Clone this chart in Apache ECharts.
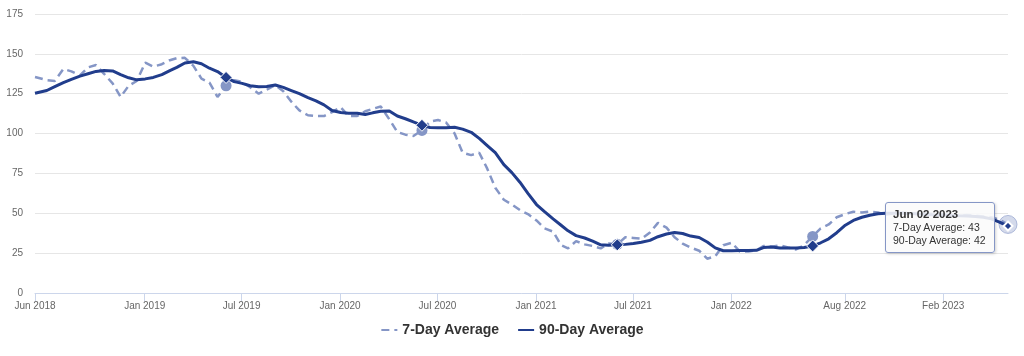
<!DOCTYPE html>
<html>
<head>
<meta charset="utf-8">
<script src="https://cdn.jsdelivr.net/npm/echarts@6/dist/echarts.min.js"></script>
<style>
html,body{margin:0;padding:0;background:#fff;}
#chart{width:1024px;height:356px;}
</style>
</head>
<body>
<div id="chart"></div>
<script>
// ---------- data ----------
const dates = [
  '2018-06-10',
  '2018-07-02','2018-07-17','2018-08-02','2018-08-17','2018-09-02','2018-09-17',
  '2018-10-02','2018-10-17','2018-11-02','2018-11-17','2018-12-02','2018-12-17',
  '2019-01-02','2019-01-17','2019-02-02','2019-02-17','2019-03-02','2019-03-17',
  '2019-04-02','2019-04-17','2019-05-02','2019-05-17','2019-06-02','2019-06-17',
  '2019-07-02','2019-07-17','2019-08-02','2019-08-17','2019-09-02','2019-09-17',
  '2019-10-02','2019-10-17','2019-11-02','2019-11-17','2019-12-02','2019-12-17',
  '2020-01-02','2020-01-17','2020-02-02','2020-02-17','2020-03-02','2020-03-17',
  '2020-04-02','2020-04-17','2020-05-02','2020-05-17','2020-06-02','2020-06-17',
  '2020-07-02','2020-07-17','2020-08-02','2020-08-17','2020-09-02','2020-09-17',
  '2020-10-02','2020-10-17','2020-11-02','2020-11-17','2020-12-02','2020-12-17',
  '2021-01-02','2021-01-17','2021-02-02','2021-02-17','2021-03-02','2021-03-17',
  '2021-04-02','2021-04-17','2021-05-02','2021-05-17','2021-06-02','2021-06-17',
  '2021-07-02','2021-07-17','2021-08-02','2021-08-17','2021-09-02','2021-09-17',
  '2021-10-02','2021-10-17','2021-11-02','2021-11-17','2021-12-02','2021-12-17',
  '2022-01-02','2022-01-17','2022-02-02','2022-02-17','2022-03-02','2022-03-17',
  '2022-04-02','2022-04-17','2022-05-02','2022-05-17','2022-06-02','2022-06-17',
  '2022-07-02','2022-07-17','2022-08-02','2022-08-17','2022-09-02','2022-09-17',
  '2022-10-02','2022-10-17','2022-11-02','2022-11-17','2022-12-02','2022-12-17',
  '2023-01-02','2023-01-17','2023-02-02','2023-02-17','2023-03-02','2023-03-17',
  '2023-04-02','2023-04-17','2023-05-02','2023-05-17','2023-06-02'
];

const sevenDay = [
  135.5,
  133.5,133, 140.5,139, 136.5,141.5, 143,137.5, 131.5,123, 130,133,
  144.5,142, 143.5,146, 147.3,147.5, 142.5,134.5, 132,123, 130,133.5,
  132.5,129, 125,127.5, 130.5,126.5, 120,114.5, 111.5,111, 111,113.5,
  116.5,111, 111,114, 115.5,117, 109,101, 99.3,98.5, 102,107.5,
  108.5,107, 100,88, 86.5,88, 78,66, 58.5,55.5, 52,49.5,
  45.5,40.5, 38.5,30, 28,32.5, 30.5,29.5, 28,31, 30.5,35,
  34.5,34, 38,44, 41,35, 31,28.5, 26.5,21.5, 23,30,
  31.5,26, 26,26.8, 29.5,29, 30,28.5, 27.3,30, 35.5,40.5,
  43,47.5, 49.5,51, 50.5,51, 50.5,49, 50,50.5, 50,49.5,
  50,49.5, 49.5,49, 48.5,49, 48.5,48, 47.5,46, 43
];

const ninetyDay = [
  125.3,
  127,129.5, 132,134, 136,137.5, 139,139.5, 139.3,137, 135,133.7,
  134.3,135.2, 137,139.5, 141.5,144.3, 145,143.8, 141,138.9, 135.2,132.6,
  131.5,130, 129.3,129.5, 130.5,129, 127,125, 122.5,120.5, 118,114.5,
  113.2,112.8, 112.8,112, 113,114, 114.2,111, 109.3,107.3, 105.2,103.8,
  103.6,103.7, 104,102.8, 100.8,97, 92.5,88, 80.5,75.5, 69.5,62.5,
  55.5,51, 46.5,42.5, 39,36, 34.5,32.5, 30.2,30, 30.2,30.5,
  31,31.8, 33,35.3, 37,38, 37.3,35.7, 34.8,32, 28.3,26.5,
  26.5,26.6, 26.7,26.8, 28.5,28.8, 28.3,28.3, 28.3,28.5, 29.5,31.5,
  34,37.8, 42.5,45.5, 47.5,48.8, 49.7,50, 50,50, 49.8,49.5,
  49.3,49, 49,48.8, 48.5,48.3, 48,47.5, 46.5,44.5, 42
];

const markerDates = ['2019-06-02','2020-06-02','2021-06-02','2022-06-02'];
const tickDates = ['2018-06-10','2019-01-01','2019-07-01','2020-01-01','2020-07-01',
                   '2021-01-01','2021-07-01','2022-01-01','2022-08-01','2023-02-01'];
const seriesNames = ['7-Day Average','90-Day Average'];
const xMin = '2018-06-10';
const xMax = '2023-06-02';
const yMin = 0, yMax = 175, yInterval = 25;

// ---------- helpers ----------
const MONTHS = ['Jan','Feb','Mar','Apr','May','Jun','Jul','Aug','Sep','Oct','Nov','Dec'];
const ts = s => new Date(s + 'T00:00:00').getTime();
const pad = n => (n < 10 ? '0' : '') + n;
const C7 = '#8596c6';
const C90 = '#213d8c';
const FONT = '"Liberation Sans", Arial, Helvetica, sans-serif';
const tipIndex = dates.length - 1;

function build(values, kind) {
  return values.map((v, i) => {
    const d = dates[i];
    const item = { value: [ts(d), v] };
    if (markerDates.indexOf(d) >= 0) {
      if (kind === 7) {
        item.symbol = 'circle'; item.symbolSize = 11;
        item.itemStyle = { color: C7, borderWidth: 0 };
      } else {
        item.symbol = 'diamond'; item.symbolSize = 12;
        item.itemStyle = { color: C90, borderColor: '#fff', borderWidth: 1 };
      }
    } else if (i === tipIndex) {
      if (kind === 7) {
        item.symbol = 'circle'; item.symbolSize = 18;
        item.itemStyle = { color: 'rgba(133,150,198,0.35)', borderColor: 'rgba(133,150,198,0.6)', borderWidth: 1 };
      } else {
        item.symbol = 'diamond'; item.symbolSize = 9;
        item.itemStyle = { color: C90, borderColor: '#fff', borderWidth: 2 };
      }
    }
    return item;
  });
}

const chart = echarts.init(document.getElementById('chart'), null, { renderer: 'canvas' });

chart.setOption({
  animation: false,
  textStyle: { fontFamily: FONT },
  grid: { left: 35, right: 16, top: 14, bottom: 63, containLabel: false },
  legend: {
    data: seriesNames,
    left: 'center',
    top: 318,
    itemWidth: 16,
    itemHeight: 10,
    itemGap: 18,
    itemStyle: { opacity: 0 },
    textStyle: { fontSize: 14, fontWeight: 'bold', color: '#333', fontFamily: FONT },
    selectedMode: false
  },
  tooltip: {
    trigger: 'item',
    triggerOn: 'none',
    alwaysShowContent: true,
    backgroundColor: 'rgba(250,250,250,0.88)',
    borderColor: C7,
    borderWidth: 1,
    padding: [5, 8, 5, 7],
    textStyle: { fontSize: 10.5, color: '#333', fontFamily: FONT },
    extraCssText: 'box-shadow:1px 1px 3px rgba(0,0,0,0.18);border-radius:3px;line-height:13px;',
    position: function (point, params, dom, rect, size) {
      return [point[0] - size.contentSize[0] - 13, point[1] - 24];
    },
    formatter: function (p) {
      const i = p.dataIndex;
      const d = new Date(ts(dates[i]));
      const head = MONTHS[d.getMonth()] + ' ' + pad(d.getDate()) + ' ' + d.getFullYear();
      return '<span style="font-weight:bold;font-size:11.5px">' + head + '</span><br/>' +
        seriesNames[0] + ': ' + Math.round(sevenDay[i]) + '<br/>' +
        seriesNames[1] + ': ' + Math.round(ninetyDay[i]);
    }
  },
  xAxis: {
    type: 'value',
    min: ts(xMin),
    max: ts(xMax),
    splitLine: { show: false },
    axisLine: { show: true, lineStyle: { color: '#ccd6eb', width: 1 } },
    axisTick: {
      show: true, length: 8, lineStyle: { color: '#ccd6eb' },
      customValues: tickDates.map(ts)
    },
    axisLabel: {
      customValues: tickDates.map(ts),
      color: '#666', fontSize: 10, margin: 8, fontFamily: FONT,
      hideOverlap: false,
      formatter: function (v) {
        const d = new Date(v);
        return MONTHS[d.getMonth()] + ' ' + d.getFullYear();
      }
    }
  },
  yAxis: {
    type: 'value',
    min: yMin, max: yMax, interval: yInterval,
    axisLine: { show: false },
    axisTick: { show: false },
    axisLabel: { color: '#666', fontSize: 10, margin: 12, fontFamily: FONT },
    splitLine: { lineStyle: { color: '#e6e6e6', width: 1 } }
  },
  series: [
    {
      name: seriesNames[0],
      type: 'line',
      data: build(sevenDay, 7),
      symbol: 'none',
      showSymbol: true,
      showAllSymbol: true,
      color: C7,
      lineStyle: { color: C7, width: 2.5, type: [8, 5] },
      emphasis: { disabled: true },
      z: 2
    },
    {
      name: seriesNames[1],
      type: 'line',
      data: build(ninetyDay, 90),
      symbol: 'none',
      showSymbol: true,
      showAllSymbol: true,
      color: C90,
      lineStyle: { color: C90, width: 3 },
      emphasis: { disabled: true },
      z: 3
    }
  ]
});

chart.dispatchAction({ type: 'showTip', seriesIndex: 1, dataIndex: tipIndex });
</script>
</body>
</html>
